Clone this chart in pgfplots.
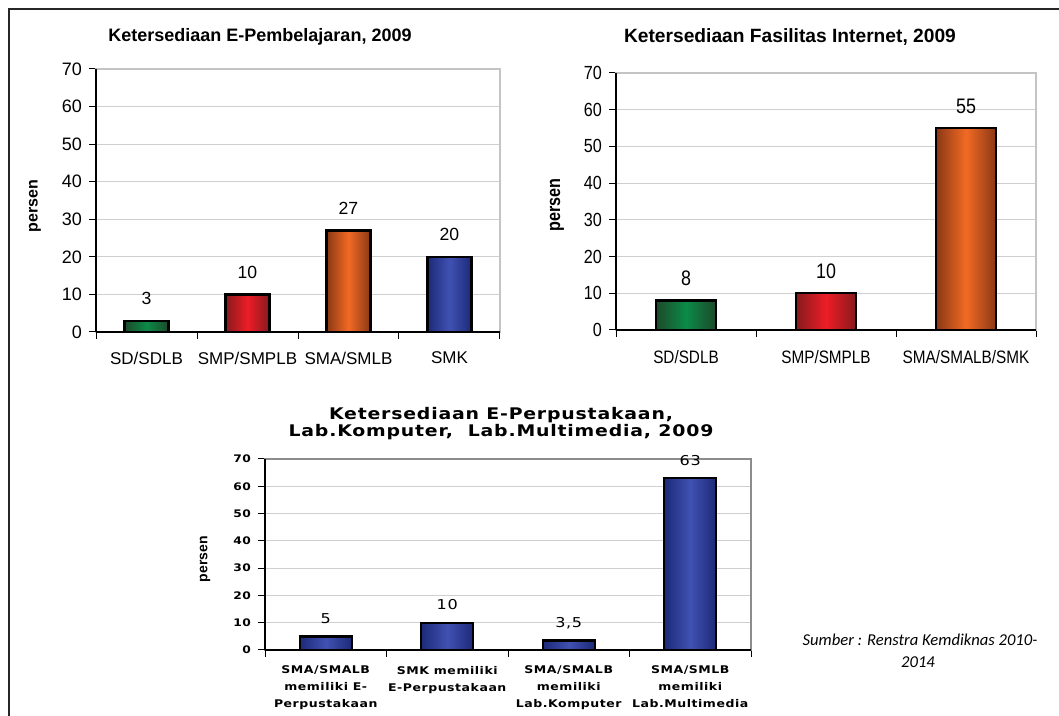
\documentclass[border=0pt]{standalone}
\usepackage{fontspec}
\setmainfont{Liberation Sans}
\newfontfamily\narrowfont[FakeStretch=0.85]{Liberation Sans}
\newfontfamily\wfont[FakeStretch=1.18,LetterSpace=5]{DejaVu Sans}
\newfontfamily\srcfont{Carlito}
\usepackage{pgfplots}
\pgfplotsset{compat=1.18}

\definecolor{grnD}{HTML}{1C4A2A}
\definecolor{grnM}{HTML}{0C8A48}
\definecolor{redD}{HTML}{861A1C}
\definecolor{redM}{HTML}{EE1D27}
\definecolor{orgD}{HTML}{8A3815}
\definecolor{orgM}{HTML}{F26A24}
\definecolor{bluD}{HTML}{1C2A78}
\definecolor{bluM}{HTML}{4051B2}
\definecolor{gridc}{HTML}{CFCFCF}
\definecolor{framec}{HTML}{C4C4C4}

\pgfplotsset{
  barchart/.style={
    scale only axis,
    ymin=0, ymax=70, ytick={0,10,...,70},
    ymajorgrids, grid style={draw=gridc, line width=0.6pt},
    axis line style={draw=framec, line width=1pt},
    tick style={black, line width=0.5pt},
    major tick length=3.5pt, tick align=outside,
    xtick pos=left, ytick pos=left,
    x tick label as interval,
    /pgf/number format/assume math mode=true,
    nodes near coords,
    every node near coord/.append style={anchor=base, inner sep=0pt, text=black},
    clip=false,
  },
  mb/.style 2 args={ybar, bar shift=0pt, draw=black, line width=1.2pt,
    left color=#1, right color=#1, middle color=#2},
}

\begin{document}
\begin{tikzpicture}[x=0.5pt,y=0.5pt]
\useasboundingbox (0,0) rectangle (1059,716);
\draw[line width=1pt, black!85] (9,0) -- (9,707) -- (1059,707);

% ---------- Chart 1 ----------
\node[anchor=base, font=\bfseries\fontsize{9}{11}\selectfont] at (260,674.5) {Ketersediaan E-Pembelajaran, 2009};
\begin{axis}[barchart,
  at={(48pt,192pt)}, anchor=south west,
  width=202pt, height=131.5pt,
  xmin=-0.5, xmax=3.5,
  xtick={-0.5,0.5,1.5,2.5,3.5},
  xticklabels={SD/SDLB, SMP/SMPLB, SMA/SMLB, SMK},
  bar width=22pt,
  yticklabel style={font=\fontsize{9}{10}\selectfont},
  xticklabel style={font=\fontsize{8.5}{10}\selectfont, yshift=-3pt},
  every node near coord/.append style={font=\fontsize{8.8}{10}\selectfont, yshift=8pt},
  ylabel={persen},
  ylabel style={at={(rel axis cs:0,0.479)}, anchor=center, yshift=30.5pt, font=\bfseries\fontsize{8}{10}\selectfont},
]
\addplot[mb={grnD}{grnM}] coordinates {(0,3)};
\addplot[mb={redD}{redM}] coordinates {(1,10)};
\addplot[mb={orgD}{orgM}] coordinates {(2,27)};
\addplot[mb={bluD}{bluM}] coordinates {(3,20)};
\draw[black, line width=0.6pt] (rel axis cs:0,0) -- (rel axis cs:1,0);
\draw[black, line width=0.6pt] (rel axis cs:0,0) -- (rel axis cs:0,1);
\end{axis}

% ---------- Chart 2 ----------
\node[anchor=base, font=\bfseries\fontsize{9.6}{11}\selectfont] at (790,673.5) {Ketersediaan Fasilitas Internet, 2009};
\begin{axis}[barchart,
  at={(308pt,193pt)}, anchor=south west,
  width=210pt, height=128.5pt,
  xmin=-0.5, xmax=2.5,
  xtick={-0.5,0.5,1.5,2.5},
  xticklabels={SD/SDLB, SMP/SMPLB, SMA/SMALB/SMK},
  bar width=30pt,
  yticklabel style={font=\narrowfont\fontsize{9.5}{11}\selectfont},
  xticklabel style={font=\narrowfont\fontsize{9}{11}\selectfont, yshift=-3pt},
  every node near coord/.append style={font=\narrowfont\fontsize{10.5}{12}\selectfont, yshift=7.5pt},
  ylabel={persen},
  ylabel style={at={(rel axis cs:0,0.486)}, anchor=center, yshift=29.5pt, font=\narrowfont\bfseries\fontsize{9.5}{11}\selectfont},
]
\addplot[mb={grnD}{grnM}] coordinates {(0,8)};
\addplot[mb={redD}{redM}] coordinates {(1,10)};
\addplot[mb={orgD}{orgM}] coordinates {(2,55)};
\draw[black, line width=0.6pt] (rel axis cs:0,0) -- (rel axis cs:1,0);
\draw[black, line width=0.6pt] (rel axis cs:0,0) -- (rel axis cs:0,1);
\end{axis}

% ---------- Chart 3 ----------
\node[anchor=base, font=\wfont\bfseries\fontsize{8}{10}\selectfont] at (501,296) {Ketersediaan E-Perpustakaan,};
\node[anchor=base, font=\wfont\bfseries\fontsize{8}{10}\selectfont] at (501,279) {Lab.Komputer,\ \ Lab.Multimedia, 2009};
\begin{axis}[barchart,
  at={(132.5pt,33pt)}, anchor=south west,
  width=243pt, height=95.5pt,
  xmin=-0.5, xmax=3.5,
  xtick={-0.5,0.5,1.5,2.5,3.5},
  xticklabels={{SMA/SMALB\\memiliki E-\\Perpustakaan},{SMK memiliki\\E-Perpustakaan},{SMA/SMALB\\memiliki\\Lab.Komputer},{SMA/SMLB\\memiliki\\Lab.Multimedia}},
  bar width=26pt,
  axis line style={draw=black!45, line width=1.3pt},
  yticklabel style={font=\wfont\bfseries\fontsize{5.2}{6}\selectfont},
  xticklabel style={font=\wfont\bfseries\fontsize{5.3}{8.5}\selectfont, align=center, yshift=-1pt},
  nodes near coords={\pgfmathprintnumber[use comma]{\pgfplotspointmeta}},
  every node near coord/.append style={font=\wfont\fontsize{6.8}{8}\selectfont, yshift=6.5pt},
  ylabel={persen},
  ylabel style={at={(rel axis cs:0,0.476)}, anchor=center, yshift=30pt, font=\bfseries\fontsize{7}{9}\selectfont},
]
\addplot[mb={bluD}{bluM}] coordinates {(0,5)};
\addplot[mb={bluD}{bluM}] coordinates {(1,10)};
\addplot[mb={bluD}{bluM}] coordinates {(2,3.5)};
\addplot[mb={bluD}{bluM}] coordinates {(3,63)};
\draw[black, line width=0.6pt] (rel axis cs:0,0) -- (rel axis cs:1,0);
\draw[black, line width=0.6pt] (rel axis cs:0,0) -- (rel axis cs:0,1);
\end{axis}

% ---------- Source ----------
\node[anchor=base, font=\srcfont\itshape\fontsize{8.3}{10}\selectfont] at (920,70) {Sumber : Renstra Kemdiknas 2010-};
\node[anchor=base, font=\srcfont\itshape\fontsize{8.3}{10}\selectfont] at (918,48) {2014};
\end{tikzpicture}
\end{document}
